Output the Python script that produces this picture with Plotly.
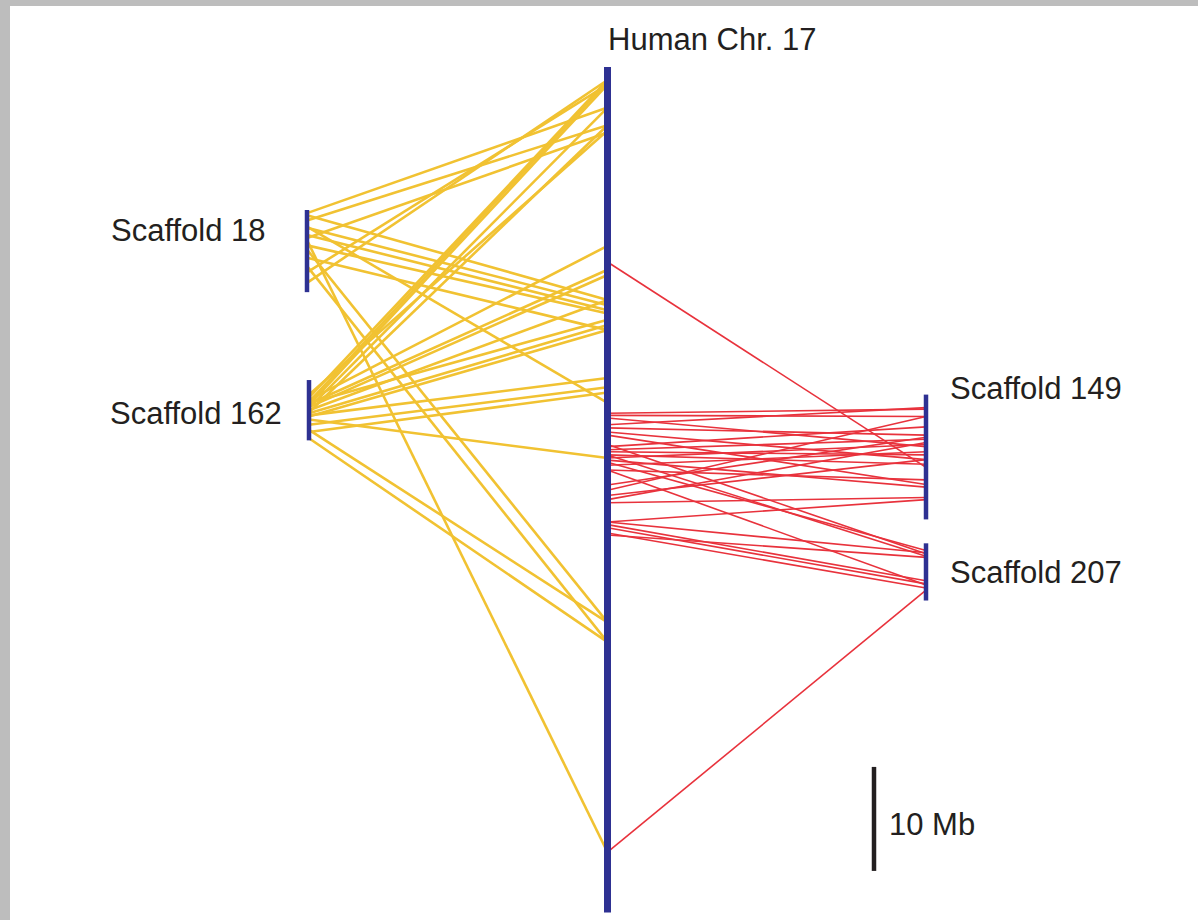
import plotly.graph_objects as go

# ---------------- data (Mb) ----------------
chr_name = "Human Chr. 17"
chr_length = 81.3

scaffold_names = ["Scaffold 18", "Scaffold 162", "Scaffold 149", "Scaffold 207"]
scaffold_offsets = [13.75, 30.1, 31.5, 45.8]     # display start along the chr17 axis (Mb)
scaffold_lengths = [7.9, 5.8, 12.0, 5.5]
scaffold_sides = ["left", "left", "right", "right"]

# yellow links: scaffold, position on scaffold (Mb from its start), position on chr17 (Mb)
yellow_scaffold = ["Scaffold 18"] * 14 + ["Scaffold 162"] * 19
yellow_scaf_mb = [0.3, 1.0, 2.7, 6.0, 7.0, 0.5, 1.7, 2.4, 3.4, 1.6, 2.9, 5.4, 3.8, 4.6,
                  1.7, 2.1, 2.4, 2.7, 3.1, 1.4, 1.9, 2.3, 2.6, 2.9, 2.2, 3.2, 3.5,
                  3.4, 4.3, 5.0, 3.8, 4.8, 5.6]
yellow_chr_mb = [3.9, 5.6, 6.3, 1.7, 1.25, 22.4, 22.9, 23.4, 23.7, 32.3, 75.5, 55.3, 53.4, 25.3,
                 1.25, 1.4, 1.7, 3.9, 5.6, 6.1, 17.2, 19.5, 20.0, 22.4, 24.3, 24.8, 25.3,
                 29.9, 30.8, 31.3, 37.6, 53.4, 55.3]

# red links: scaffold, position on chr17 (Mb), position on scaffold (Mb from its start)
red_scaffold = ["Scaffold 149"] * 22 + ["Scaffold 207"] * 10
red_chr_mb = [18.75, 33.3, 33.5, 33.75, 34.4, 34.7, 35.1, 35.4, 36.5, 36.8, 37.0,
              37.3, 37.6, 37.8, 38.3, 38.75, 40.2, 40.7, 41.2, 41.6, 41.9, 43.75,
              36.3, 37.3, 38.0, 38.75, 43.75, 44.0, 44.3, 44.8, 45.0, 75.5]
red_scaf_mb = [7.0, 1.4, 2.1, 5.0, 1.25, 3.9, 6.25, 8.65, 3.1, 4.3, 5.8,
               6.7, 4.8, 8.9, 5.5, 8.2, 4.1, 2.1, 6.25, 4.6, 9.9, 10.1,
               1.0, 1.25, 0.7, 4.0, 0.9, 3.6, 3.9, 4.3, 1.35, 4.5]

scale_bar_mb = 10
scale_bar_start = 67.3

# ---------------- layout constants ----------------
X_CHR = 607.5
X_SCAF = {"Scaffold 18": 307, "Scaffold 162": 309, "Scaffold 149": 926, "Scaffold 207": 926}
X_SCALE = 874
BLUE = "#2E3192"
YELLOW = "#F1C232"
RED = "#E8323C"
TEXT = "#231F20"
FONT = "Liberation Sans, Arial, Helvetica, sans-serif"
FONT_SIZE = 31

scaf_off = dict(zip(scaffold_names, scaffold_offsets))

fig = go.Figure()

# yellow links
xs, ys = [], []
for s, smb, cmb in zip(yellow_scaffold, yellow_scaf_mb, yellow_chr_mb):
    xs += [X_SCAF[s], X_CHR, None]
    ys += [scaf_off[s] + smb, cmb, None]
fig.add_trace(go.Scatter(x=xs, y=ys, mode="lines", line=dict(color=YELLOW, width=2.6),
                         hoverinfo="skip", showlegend=False))

# red links
xs, ys = [], []
for s, cmb, smb in zip(red_scaffold, red_chr_mb, red_scaf_mb):
    xs += [X_CHR, X_SCAF[s], None]
    ys += [cmb, scaf_off[s] + smb, None]
fig.add_trace(go.Scatter(x=xs, y=ys, mode="lines", line=dict(color=RED, width=1.6),
                         hoverinfo="skip", showlegend=False))

# chromosome bar
fig.add_trace(go.Scatter(x=[X_CHR, X_CHR], y=[0, chr_length], mode="lines",
                         line=dict(color=BLUE, width=7), hoverinfo="skip", showlegend=False))
# scaffold bars
for name, off, ln in zip(scaffold_names, scaffold_offsets, scaffold_lengths):
    fig.add_trace(go.Scatter(x=[X_SCAF[name], X_SCAF[name]], y=[off, off + ln], mode="lines",
                             line=dict(color=BLUE, width=4.5), hoverinfo="skip", showlegend=False))
# scale bar
fig.add_trace(go.Scatter(x=[X_SCALE, X_SCALE], y=[scale_bar_start, scale_bar_start + scale_bar_mb],
                         mode="lines", line=dict(color=TEXT, width=4.5),
                         hoverinfo="skip", showlegend=False))

annotations = [
    dict(x=X_CHR, y=-2.6, text=chr_name, xanchor="left", yanchor="middle", xshift=-2),
    dict(x=X_SCALE, y=scale_bar_start + scale_bar_mb / 2 + 0.5, text=f"{scale_bar_mb} Mb",
         xanchor="left", yanchor="middle", xshift=13),
]
label_y = {"Scaffold 18": 15.7, "Scaffold 162": 33.3, "Scaffold 149": 30.9, "Scaffold 207": 48.6}
for name, side in zip(scaffold_names, scaffold_sides):
    if side == "left":
        annotations.append(dict(x=X_SCAF[name], y=label_y[name], text=name, xanchor="right",
                                yanchor="middle", xshift=-(39 if name == "Scaffold 18" else 25)))
    else:
        annotations.append(dict(x=X_SCAF[name], y=label_y[name], text=name, xanchor="left",
                                yanchor="middle", xshift=22))
for a in annotations:
    a.update(showarrow=False, font=dict(family=FONT, size=FONT_SIZE, color=TEXT))

fig.update_layout(
    width=1198, height=920,
    margin=dict(l=10, r=0, t=6, b=0),
    paper_bgcolor="#BDBDBD", plot_bgcolor="white",
    xaxis=dict(range=[10, 1198], visible=False, fixedrange=True),
    yaxis=dict(range=[(920 - 67) / 10.4, (6 - 67) / 10.4], visible=False, fixedrange=True),
    annotations=annotations,
)

fig.write_html(
    "out.html",
    config={"displayModeBar": False},
    post_script="document.body.style.margin='0';document.body.style.overflow='hidden';"
                "document.body.style.background='#BDBDBD';",
)
